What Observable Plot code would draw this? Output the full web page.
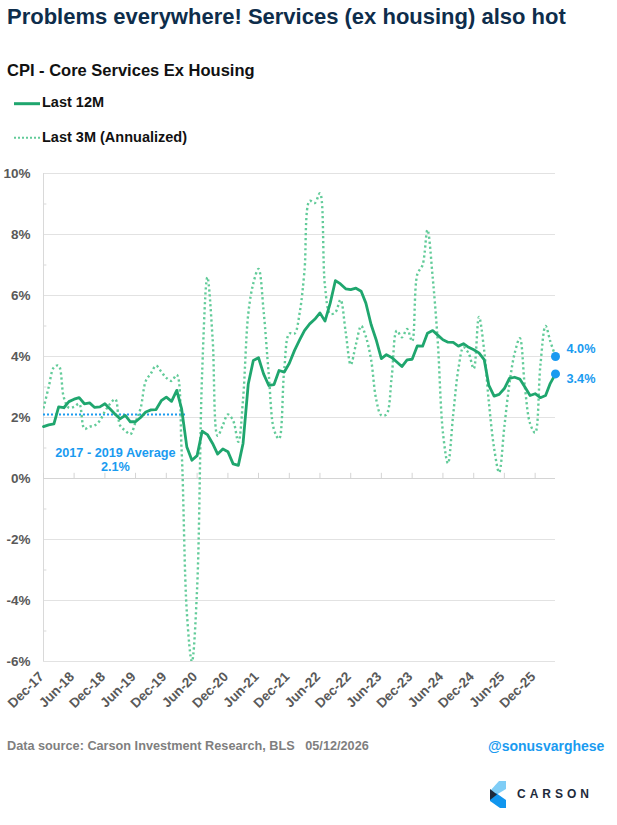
<!DOCTYPE html>
<html><head><meta charset="utf-8">
<script src="https://cdn.jsdelivr.net/npm/d3@7"></script>
<script src="https://cdn.jsdelivr.net/npm/@observablehq/plot@0.6"></script>
<style>
body{margin:0;background:#fff;font-family:"Liberation Sans",Arial,sans-serif;}
#page{position:relative;width:617px;height:825px;overflow:hidden;background:#fff;}
.t{position:absolute;white-space:nowrap;line-height:1;font-weight:bold;}
#chart{position:absolute;left:0;top:160px;}
</style></head><body>
<div id="page">
  <div class="t" style="left:7px;top:6.4px;font-size:22px;color:#0e2d4b">Problems everywhere! Services (ex housing) also hot</div>
  <div class="t" style="left:7px;top:62px;font-size:16.5px;color:#111">CPI - Core Services Ex Housing</div>
  <svg style="position:absolute;left:0;top:95px" width="44" height="50">
    <line x1="14" x2="40" y1="8.7" y2="8.7" stroke="#1fa66e" stroke-width="3"/>
    <line x1="14" x2="40" y1="42.7" y2="42.7" stroke="#62cb99" stroke-width="2" stroke-dasharray="2,2"/>
  </svg>
  <div class="t" id="leg1" style="left:42px;top:95.2px;font-size:14.5px;color:#111"></div>
  <div class="t" id="leg2" style="left:42px;top:129.7px;font-size:14.5px;color:#111"></div>
  <div id="chart"></div>
  <div class="t" style="left:7px;top:740.2px;font-size:12.7px;color:#7f7f7f">Data source: Carson Investment Research, BLS&nbsp;&nbsp;&nbsp;05/12/2026</div>
  <div class="t" style="left:488px;top:739px;font-size:14px;color:#1a9bf0">@sonusvarghese</div>
  <svg style="position:absolute;left:0;top:0;pointer-events:none" width="617" height="825">
    <polygon points="499,781 506,781 506,789 496,795 490,791" fill="#7fcdf6"/>
    <polygon points="490,795 496,793 506,800 506,808 500,808 490,801" fill="#1196ee"/>
    <polygon points="490,789 497,794.5 490,800" fill="#1e2a3b"/>
    <text x="517" y="798.3" font-family="Liberation Sans, Arial, sans-serif" font-size="12" font-weight="600" letter-spacing="4" fill="#1e2a3b">CARSON</text>
  </svg>
</div>
<script>
// ---- data ----
const startMonth = "2017-12";
const seriesNames = ["Last 12M", "Last 3M (Annualized)"];
const last12m = [1.70,1.76,1.79,2.35,2.32,2.52,2.60,2.65,2.45,2.48,2.33,2.35,2.45,2.28,2.10,1.96,2.07,1.86,1.86,2.00,2.18,2.25,2.26,2.55,2.67,2.53,2.89,2.28,1.03,0.60,0.75,1.55,1.44,1.15,0.80,0.97,0.88,0.48,0.43,1.15,3.10,3.87,3.96,3.43,3.05,3.08,3.54,3.49,3.78,4.20,4.55,4.85,5.07,5.22,5.43,5.16,5.75,6.49,6.38,6.22,6.19,6.24,6.14,5.75,5.05,4.55,3.93,4.06,3.97,3.82,3.67,3.89,3.91,4.35,4.34,4.76,4.85,4.70,4.55,4.47,4.46,4.34,4.42,4.30,4.22,4.12,3.90,3.05,2.70,2.76,2.95,3.28,3.32,3.26,3.00,2.72,2.78,2.65,2.72,3.12,3.43];
const last3m = [2.30,3.00,3.65,3.70,2.65,2.32,2.35,2.45,1.63,1.70,1.74,1.90,2.20,2.45,2.60,1.74,1.57,1.45,1.85,2.30,3.20,3.45,3.70,3.50,3.30,3.20,3.40,0.90,-4.40,-6.00,-3.60,3.50,6.60,4.60,1.40,1.75,2.10,1.90,1.20,2.60,5.40,6.40,6.87,5.50,3.40,1.60,1.30,3.60,4.75,4.75,5.45,6.80,9.10,9.03,9.35,6.30,5.40,5.45,5.86,4.80,3.73,4.40,5.00,4.65,3.90,2.60,2.07,2.10,3.30,4.85,4.63,4.90,4.50,6.70,7.00,8.15,6.60,4.50,1.50,0.50,2.10,3.60,4.30,4.10,3.60,5.30,4.20,2.50,1.00,0.20,1.70,3.10,4.10,4.60,3.00,1.80,1.50,3.70,5.00,4.50,4.00];
const tickLabels = ["Dec-17","Jun-18","Dec-18","Jun-19","Dec-19","Jun-20","Dec-20","Jun-21","Dec-21","Jun-22","Dec-22","Jun-23","Dec-23","Jun-24","Dec-24","Jun-25","Dec-25"];
const yTicks = [-6,-4,-2,0,2,4,6,8,10];
const yMinorTicks = [-5,-3,-1,1,3,5,7,9];
const avgValue = 2.1;
const avgPeriod = ["2017-12","2020-04"];
const avgLabel = "2017 - 2019 Average";
const avgLabelAt = {month: "2019-02", value: 0.62};

// ---- build ----
document.getElementById("leg1").textContent = seriesNames[0];
document.getElementById("leg2").textContent = seriesNames[1];
const pm = d3.utcParse("%Y-%m");
const start = pm(startMonth);
const dates = last12m.map((_, i) => d3.utcMonth.offset(start, i));
const d12 = last12m.map((v, i) => ({date: dates[i], v}));
const d3m = last3m.map((v, i) => ({date: dates[i], v}));
const tickDates = tickLabels.map(d3.utcParse("%b-%y"));
const fmt = d3.utcFormat("%b-%y");
const end12 = [d12[d12.length - 1]];
const end3 = [d3m[d3m.length - 1]];
const blue = "#1a9bf0";

const chart = Plot.plot({
  width: 617, height: 565,
  marginTop: 13, marginBottom: 64, marginLeft: 43, marginRight: 62,
  style: {fontFamily: "Liberation Sans, Arial, sans-serif", fontSize: "13.5px", fontWeight: "bold", color: "#595959", background: "transparent", overflow: "visible"},
  x: {type: "utc", domain: [dates[0], dates[dates.length - 1]]},
  y: {domain: [-6, 10]},
  marks: [
    Plot.ruleY(yTicks, {stroke: "#e2e2e2", strokeWidth: 1}),
    Plot.ruleX([dates[0]], {stroke: "#d9d9d9"}),
    Plot.ruleY(yMinorTicks, {x1: dates[0], x2: d3.utcDay.offset(dates[0], 20), stroke: "#d9d9d9"}),
    Plot.ruleY([0], {stroke: "#d4d4d4", strokeWidth: 1.2}),
    Plot.ruleX(tickDates, {y1: 0, y2: 0.17, stroke: "#d4d4d4"}),
    Plot.axisY({ticks: yTicks, tickFormat: d => `${d}%`, tickSize: 0, tickPadding: 13, fill: "#595959", fontSize: 13.5, label: null}),
    Plot.axisX({ticks: tickDates, tickFormat: fmt, tickRotate: -45, tickSize: 0, tickPadding: 13, dx: -2, fill: "#595959", fontSize: 13.5, label: null}),
    Plot.ruleY([avgValue], {x1: pm(avgPeriod[0]), x2: pm(avgPeriod[1]), stroke: blue, strokeWidth: 2, strokeDasharray: "2,2"}),
    Plot.text([avgLabelAt], {x: d => pm(d.month), y: "value", text: () => `${avgLabel}\n${avgValue}%`, fill: blue, fontSize: 12.7, lineHeight: 1.12, textAnchor: "middle"}),
    Plot.line(d3m, {x: "date", y: "v", curve: "catmull-rom", stroke: "#62cb99", strokeWidth: 2.4, strokeDasharray: "2.2 2.8", strokeLinecap: "butt", clip: true}),
    Plot.line(d12, {x: "date", y: "v", stroke: "#1fa66e", strokeWidth: 2.8}),
    Plot.dot([...end3, ...end12], {x: "date", y: "v", r: 4.5, fill: blue}),
    Plot.text(end3, {x: "date", y: "v", text: d => `${d.v.toFixed(1)}%`, dx: 11, dy: -8, textAnchor: "start", fill: blue, fontSize: 12.7}),
    Plot.text(end12, {x: "date", y: "v", text: d => `${d.v.toFixed(1)}%`, dx: 11, dy: 5, textAnchor: "start", fill: blue, fontSize: 12.7})
  ]
});
document.getElementById("chart").appendChild(chart);
</script>
</body></html>
